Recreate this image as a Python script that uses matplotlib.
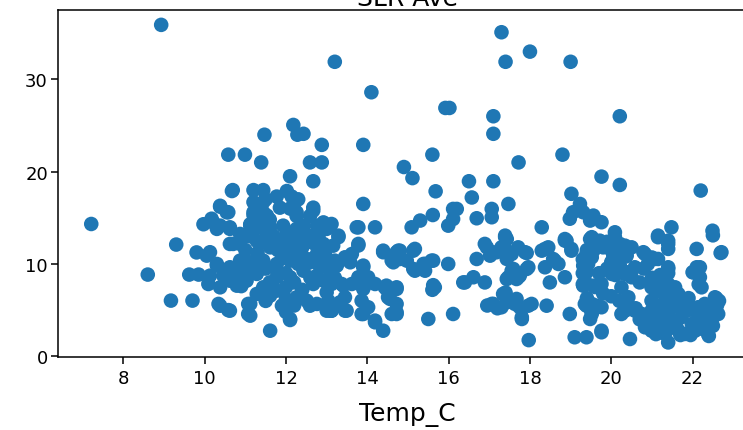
import numpy as np
import matplotlib
matplotlib.use("Agg")
import matplotlib.pyplot as plt

# (Temp_C, SLR Ave) pairs, grouped by region
outliers = [
    (7.21, 14.33), (8.93, 35.9), (8.6, 8.85), (9.17, 6.03), (9.3, 12.1), (9.7, 6.03),
    (9.62, 8.85), (9.85, 8.85), (9.8, 11.25),
    (13.2, 31.9), (14.1, 28.6), (17.3, 35.1), (17.4, 31.9), (18.0, 33.0), (19.0, 31.9),
    (15.92, 26.9), (16.02, 26.9), (17.1, 26.0), (17.1, 24.1), (20.21, 26.0),
    (11.47, 24.0), (12.18, 25.06), (12.28, 24.0), (12.43, 24.1), (12.88, 22.9), (13.9, 22.9),
    (10.58, 21.84), (10.99, 21.84), (11.39, 21.0), (12.59, 21.0), (12.88, 21.0),
    (12.1, 19.5), (12.67, 18.96),
    (15.6, 21.84), (14.9, 20.5), (15.11, 19.3), (17.72, 21.0), (18.8, 21.84),
    (19.76, 19.46), (20.21, 18.56), (22.2, 17.95),
    (16.5, 18.96), (17.1, 18.96), (15.68, 17.87), (16.57, 17.2), (13.9, 16.5),
    (17.47, 16.5), (19.02, 17.6),
]

cool_cluster = [
    (10.69, 18.0), (11.2, 18.0), (11.44, 18.0), (11.77, 17.3), (12.02, 17.9), (12.14, 17.3),
    (11.2, 16.7), (11.44, 16.7), (11.2, 15.6), (11.44, 15.6), (10.38, 16.2), (10.58, 15.6),
    (11.85, 16.1), (12.1, 16.0), (12.26, 15.2), (12.67, 16.1), (12.59, 15.2), (12.92, 14.5),
    (9.97, 14.3), (10.17, 14.9), (10.38, 14.15), (10.62, 13.97), (10.87, 13.25), (11.12, 14.3),
    (11.36, 14.5), (11.61, 13.97), (11.93, 14.15), (12.26, 13.8), (12.43, 14.15),
    (10.13, 11.27), (10.3, 10.0), (10.13, 8.73), (10.09, 7.83), (10.38, 7.47), (10.62, 8.19),
    (10.87, 8.92), (11.12, 9.64), (10.99, 10.36), (10.7, 12.17), (10.87, 10.36), (10.62, 9.64),
    (10.34, 5.67), (10.58, 5.0), (11.07, 5.67), (11.07, 4.58), (11.61, 2.77), (12.1, 3.93),
    (11.93, 5.48), (11.53, 6.39), (11.77, 7.11), (12.51, 6.02), (12.76, 5.67), (13.0, 4.94),
    (12.26, 6.39), (11.28, 6.75), (11.44, 7.47), (11.77, 8.56), (12.1, 8.56), (12.43, 9.27),
    (12.67, 7.83), (12.92, 8.19), (12.84, 9.64), (12.76, 11.08), (12.43, 10.72), (12.1, 10.36),
    (11.77, 10.0), (11.44, 10.36), (11.28, 8.92), (11.03, 8.19), (11.61, 11.8), (11.28, 12.5),
    (10.87, 12.17), (10.62, 12.17), (11.93, 12.17), (12.26, 12.5), (12.59, 12.9), (12.92, 12.17),
    (12.26, 11.44), (11.93, 11.08),
    (10.21, 14.5), (10.38, 16.3), (10.54, 15.6), (10.3, 13.8), (10.67, 17.9), (10.62, 13.8),
    (10.05, 10.9), (10.3, 9.82), (10.46, 8.73), (10.79, 7.65), (10.79, 9.46), (11.12, 10.18),
    (10.38, 5.48), (10.62, 4.94), (11.12, 5.67), (11.12, 4.4), (12.1, 4.04), (11.9, 5.48),
    (12.59, 5.48), (13.12, 4.94), (11.61, 6.57), (11.12, 14.15), (11.44, 12.35), (11.53, 15.24),
    (11.28, 15.6), (11.93, 11.98), (12.26, 15.6), (12.67, 15.78), (12.76, 14.15), (13.0, 13.8),
    (12.59, 10.18), (12.92, 10.9), (13.25, 9.82), (13.58, 10.18), (13.16, 11.98), (12.51, 12.35),
    (11.5, 9.5), (11.8, 9.2), (12.0, 9.0), (12.2, 8.0), (12.0, 7.5), (11.6, 8.0), (12.4, 7.2),
    (12.6, 8.5), (12.3, 10.0), (11.9, 10.6), (11.2, 10.0), (11.0, 11.5), (11.3, 11.2),
    (12.0, 13.0), (12.2, 13.5), (11.7, 13.0), (11.5, 13.5), (11.4, 15.0), (11.2, 15.3),
    (11.5, 17.0), (12.3, 17.0), (12.2, 16.5), (12.5, 13.2), (12.8, 13.0), (12.7, 12.2),
    (11.1, 13.0), (11.3, 14.0), (11.6, 14.8), (11.0, 9.2), (10.8, 8.2), (10.9, 7.6),
    (11.5, 6.0), (12.0, 6.2), (12.2, 5.5), (12.0, 4.8), (12.4, 11.8), (12.1, 12.0),
    (11.8, 11.5), (12.6, 10.5), (12.9, 10.8), (13.0, 9.8), (13.1, 9.0), (13.2, 8.5),
]

mid_cluster = [
    (13.12, 14.33), (13.78, 13.97), (14.19, 13.97), (13.29, 13.07), (13.29, 12.9), (13.78, 12.17),
    (12.96, 11.08), (13.2, 10.36), (13.45, 10.72), (13.62, 11.08), (13.9, 9.64), (13.78, 8.56),
    (14.02, 8.56), (14.19, 7.83), (13.12, 7.83), (13.37, 7.83), (13.62, 7.83), (13.12, 4.94),
    (13.45, 4.94), (13.86, 4.58), (14.19, 3.86), (14.39, 2.77), (14.6, 4.58), (14.72, 5.67),
    (14.51, 6.39), (14.43, 7.47), (14.72, 7.47), (13.04, 6.02), (13.45, 6.39), (13.86, 6.02),
    (14.02, 5.31), (14.39, 11.44), (14.76, 11.44), (15.17, 11.63), (14.6, 10.36), (14.97, 10.36),
    (15.17, 9.27), (15.42, 10.0), (15.58, 10.36), (15.99, 10.0), (15.66, 7.47), (15.42, 9.27),
    (15.5, 4.04), (16.11, 4.58),
    (15.61, 15.3), (15.3, 14.7), (15.09, 13.97), (16.11, 15.96), (16.2, 15.96), (16.11, 14.87),
    (15.99, 14.15), (16.69, 14.95), (17.06, 15.96), (17.06, 15.06), (17.39, 13.07),
    (13.74, 13.97), (13.78, 12.0), (14.39, 11.27), (14.72, 11.27), (13.9, 9.82), (14.07, 8.0),
    (14.47, 7.65), (14.72, 7.29), (13.9, 7.29), (13.9, 4.58), (14.19, 3.68), (14.72, 4.58),
    (13.08, 4.94), (13.49, 4.94), (13.33, 5.85), (13.0, 6.93), (13.41, 7.65), (13.16, 8.37),
    (12.76, 8.73),
    (15.62, 10.36), (15.38, 10.0), (15.13, 9.46), (14.8, 10.54), (14.64, 10.18), (14.8, 11.44),
    (15.13, 11.44), (14.47, 7.29), (14.56, 6.21), (14.72, 4.77), (15.62, 7.7), (15.6, 7.2),
]

warm_mid = [
    (16.4, 8.0), (16.61, 8.56), (16.89, 8.0), (16.69, 10.54), (16.89, 12.17), (17.06, 11.27),
    (17.3, 11.8), (17.39, 12.9), (17.55, 11.08), (17.71, 11.8), (17.88, 11.27), (17.55, 9.27),
    (17.47, 8.56), (17.71, 8.56), (17.39, 6.75), (17.06, 5.67), (17.3, 5.31), (17.63, 5.67),
    (17.8, 4.23), (17.97, 1.75),
    (18.29, 11.44), (18.45, 11.8), (18.61, 10.36), (18.37, 9.64), (17.96, 9.64), (18.04, 5.67),
    (18.41, 5.48), (18.49, 8.0), (18.86, 8.56), (18.98, 4.58), (19.1, 2.06), (19.39, 2.06),
    (19.76, 2.77), (20.46, 1.87),
    (18.29, 13.97), (18.37, 11.63), (18.57, 10.54), (18.7, 10.0), (17.92, 11.19), (17.92, 9.46),
    (17.75, 8.73), (17.59, 9.46), (17.43, 8.37), (17.67, 8.37), (17.43, 12.7), (17.39, 11.63),
    (17.18, 11.27), (16.94, 11.8), (17.02, 10.9), (17.43, 10.54), (16.36, 8.0), (17.1, 5.67),
    (17.34, 6.75), (17.43, 5.85), (17.67, 6.21), (17.75, 5.31), (17.8, 4.04), (17.96, 5.48),
    (18.86, 12.52), (19.02, 11.63), (18.86, 12.7), (16.95, 5.5), (17.2, 5.2), (17.4, 6.9),
]

warm_cluster = [
    (18.9, 12.52), (19.02, 11.44), (19.52, 12.9), (19.76, 12.17), (20.09, 12.9), (20.25, 11.44),
    (20.5, 11.8), (20.83, 11.08), (19.35, 8.19), (19.43, 10.0), (19.39, 11.08), (19.52, 10.72),
    (19.76, 7.83), (19.52, 5.67), (19.52, 4.58), (19.76, 5.31), (19.35, 5.67), (20.01, 8.92),
    (20.09, 9.64), (20.17, 10.36), (20.34, 8.92), (20.58, 9.64), (20.5, 8.56), (20.25, 7.47),
    (20.42, 6.39), (20.34, 4.94), (20.25, 4.58), (20.58, 4.94), (20.75, 4.58),
    (19.23, 16.5), (19.31, 15.6), (19.56, 15.24), (19.76, 14.52), (19.48, 14.7), (18.98, 14.9),
    (19.06, 15.6), (21.48, 13.97), (21.15, 13.07), (21.4, 12.52), (21.4, 11.63), (22.49, 13.6),
    (22.69, 11.19), (22.1, 11.63), (22.18, 9.64), (22.02, 9.1), (21.07, 10.54), (21.4, 9.46),
    (20.79, 11.27), (20.09, 13.43), (20.21, 12.17), (19.97, 12.35), (20.34, 11.98), (20.38, 10.9),
    (20.05, 10.9), (20.21, 9.82), (19.97, 9.46), (20.38, 9.1), (19.48, 12.7), (19.72, 12.52),
    (19.56, 11.44), (19.39, 10.9), (19.31, 9.82), (19.39, 9.1), (19.31, 7.65), (19.56, 7.65),
    (19.39, 5.48), (19.64, 5.48), (19.48, 4.04), (19.76, 2.6),
    (21.15, 12.9), (21.4, 12.17), (21.15, 10.54), (21.4, 9.64), (22.71, 11.27), (22.5, 13.1),
    (19.6, 12.0), (19.8, 11.8), (19.9, 12.4), (20.0, 11.5), (20.2, 11.0), (20.35, 10.8),
    (20.0, 10.2), (19.9, 9.5), (20.1, 8.8), (19.7, 9.0), (19.6, 7.5), (19.8, 6.8), (20.0, 6.5),
    (20.2, 6.0), (20.4, 5.5), (20.6, 5.2), (20.7, 4.0), (20.9, 3.5), (19.4, 6.3), (19.5, 5.0),
    (19.3, 7.8), (19.3, 9.0), (19.3, 10.5), (19.4, 11.5), (20.7, 8.0), (20.8, 9.5), (20.9, 10.0),
    (21.0, 10.7),
]

hot_cluster = [
    (20.99, 7.47), (21.15, 8.19), (21.4, 7.83), (21.57, 7.47), (21.65, 6.75), (20.99, 6.02),
    (21.15, 5.31), (21.32, 6.02), (21.48, 5.67), (21.65, 5.31), (21.81, 5.67), (20.91, 4.58),
    (21.07, 3.86), (21.24, 4.23), (21.4, 4.58), (21.57, 3.86), (21.73, 4.23), (20.83, 3.14),
    (20.99, 2.77), (21.15, 3.14), (21.32, 2.42), (21.48, 3.14), (21.65, 2.77), (21.81, 2.42),
    (21.4, 1.5), (21.98, 3.5), (22.14, 4.23), (22.3, 3.5), (22.47, 3.86), (22.14, 5.31),
    (22.3, 5.67), (22.55, 6.39), (22.22, 7.47), (22.18, 8.56), (22.1, 9.64), (22.47, 4.94),
    (22.38, 2.42), (22.06, 2.77), (22.3, 4.58), (22.63, 4.58), (22.4, 2.2), (22.58, 6.3),
    (21.0, 5.0), (21.1, 7.0), (21.3, 7.0), (21.5, 6.5), (21.7, 6.0), (21.2, 8.8), (21.4, 9.0),
    (21.0, 8.5), (21.9, 6.3), (21.9, 5.0), (21.6, 3.2), (21.3, 3.6), (21.1, 2.4), (22.2, 3.0),
    (22.5, 3.3), (22.6, 5.5), (22.65, 6.0), (21.7, 2.3), (21.95, 2.3), (22.0, 9.1), (22.15, 7.8),
]

x_ticks = [8, 10, 12, 14, 16, 18, 20, 22]
y_ticks = [0, 10, 20, 30]

pts = np.array(outliers + cool_cluster + mid_cluster + warm_mid + warm_cluster + hot_cluster)
temp_c = pts[:, 0]
slr_ave = pts[:, 1]

fig = plt.figure(figsize=(7.43, 4.31), dpi=100)
ax = fig.add_axes([0.0785, 0.1687, 0.939, 0.806])
ax.scatter(temp_c, slr_ave, s=110, color="#1f77b4", edgecolors="none")
ax.set_xlim(6.4, 23.56)
ax.set_ylim(-0.11, 37.52)
ax.set_xticks(x_ticks)
ax.set_yticks(y_ticks)
ax.tick_params(labelsize=13, length=5, width=1.1)
ax.tick_params(axis="y", pad=2.5)
for sp in ax.spines.values():
    sp.set_linewidth(1.1)
ax.set_xlabel("Temp_C", fontsize=18, labelpad=11)
ax.set_title("SLR Ave", fontsize=18, pad=3)
fig.savefig("out.png", dpi=100)
